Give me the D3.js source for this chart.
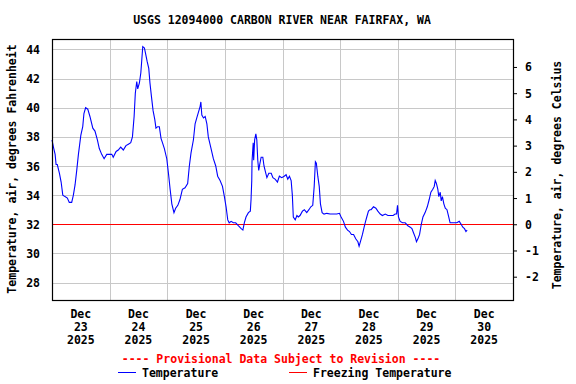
<!DOCTYPE html>
<html lang="en">
<head>
<meta charset="UTF-8">
<script src="https://d3js.org/d3.v7.min.js"></script>
<title>USGS 12094000 Carbon River</title>
<style>
body { margin: 0; background: white; }
text {
  font-family: "DejaVu Sans Mono", monospace;
  font-weight: bold;
  font-size: 11.5px;
  fill: black;
}
.grid line { stroke: #c8c8c8; stroke-width: 1px; shape-rendering: crispEdges; }
</style>
</head>
<body>
<div id="chart"></div>
<script>

// hours after Dec 23 2025 00:00 and air temperature (deg F)
var hours = [0, 0.6, 1.3, 1.7, 2.2, 3.1, 3.8, 4.5, 5.4, 6.4, 7.2, 8.2, 8.9, 9.6, 10.3, 11.0, 12.0, 12.8, 13.3, 14.0,
  14.9, 15.8, 17.0, 17.9, 18.9, 19.7, 20.7, 21.7, 22.8, 23.9, 24.9, 25.5, 26.7, 27.6, 28.6, 29.7, 30.8, 31.8, 32.8, 33.5,
  34.2, 34.7, 35.3, 35.7, 36.4, 37.0, 37.4, 37.8, 38.5, 39.0, 39.6, 40.3, 40.8, 41.4, 42.1, 42.8, 43.3, 44.0, 44.7, 45.4,
  46.0, 46.8, 47.8, 48.5, 49.2, 49.9, 50.8, 51.5, 52.4, 53.3, 54.3, 55.4, 56.5, 57.2, 57.9, 58.9, 59.6, 60.3, 61.0, 61.7,
  62.0, 62.4, 63.1, 63.8, 64.5, 65.1, 66.1, 67.2, 68.2, 69.0, 70.0, 71.0, 71.8, 72.5, 73.2, 73.8, 74.6, 75.5, 76.5, 77.6,
  78.8, 79.5, 80.1, 80.8, 81.8, 82.6, 82.9, 83.2, 83.3, 83.8, 84.0, 84.4, 84.9, 85.3, 85.7, 86.1, 86.5, 87.1, 87.8, 88.3,
  88.9, 89.5, 90.3, 91.3, 92.0, 92.9, 93.9, 94.7, 95.7, 96.7, 97.5, 98.2, 98.9, 99.6, 100.1, 100.5, 101.3, 102.0, 102.6, 103.3,
  104.3, 105.1, 106.1, 107.0, 107.8, 108.6, 109.2, 109.7, 110.1, 110.7, 111.3, 111.8, 112.5, 113.3, 114.5, 115.8, 117.2, 118.6, 119.7, 120.4,
  121.4, 122.2, 123.1, 123.9, 124.7, 125.6, 126.5, 127.4, 127.9, 128.6, 129.3, 130.0, 130.6, 131.1, 131.8, 132.4, 132.9, 133.9, 134.9, 135.7,
  136.7, 137.6, 138.8, 139.9, 141.0, 142.1, 142.9, 143.5, 143.9, 144.3, 145.0, 146.0, 147.1, 148.2, 149.2, 149.9, 150.6, 151.3, 151.8, 152.4,
  153.1, 153.8, 154.5, 155.4, 156.3, 157.1, 157.8, 158.6, 159.2, 159.6, 160.1, 160.7, 161.1, 161.7, 162.1, 162.6, 163.2, 163.8, 164.5, 165.1,
  165.8, 166.8, 167.6, 168.6, 169.6, 170.4, 171.1, 171.8, 172.4, 172.9];

var tempF = [37.8, 37.3, 36.8, 36.1, 36.1, 35.5, 34.9, 34.0, 33.9, 33.8, 33.5, 33.5, 34.0, 34.7, 35.7, 36.8, 38.1, 38.7, 39.6, 40.0,
  39.9, 39.4, 38.6, 38.4, 37.8, 37.2, 36.8, 36.5, 36.8, 36.8, 36.8, 36.6, 37.0, 37.1, 37.3, 37.1, 37.4, 37.5, 37.6, 38.0,
  39.4, 41.0, 41.8, 41.3, 41.7, 42.4, 43.3, 44.2, 44.1, 43.7, 43.2, 42.7, 41.7, 40.8, 39.8, 39.2, 38.6, 38.7, 38.7, 37.9,
  37.6, 37.2, 36.5, 35.5, 34.4, 33.4, 32.8, 33.1, 33.3, 33.7, 34.4, 34.5, 34.8, 36.0, 36.9, 37.8, 38.9, 39.3, 39.7, 40.1,
  40.4, 39.5, 39.3, 39.4, 38.9, 38.0, 37.3, 36.5, 36.0, 35.3, 35.0, 34.6, 33.9, 33.2, 32.3, 32.1, 32.2, 32.1, 32.1, 31.9,
  31.7, 31.6, 32.1, 32.5, 32.8, 32.9, 33.7, 35.0, 36.3, 37.6, 36.4, 37.8, 38.2, 37.8, 36.4, 35.7, 36.1, 36.6, 36.6, 36.0,
  35.6, 35.2, 35.5, 35.5, 35.2, 35.1, 34.9, 35.3, 35.2, 35.3, 35.4, 35.1, 35.3, 35.0, 34.0, 32.5, 32.3, 32.6, 32.5, 32.6,
  32.9, 33.0, 32.8, 33.0, 33.2, 33.3, 34.6, 36.3, 36.2, 35.3, 34.6, 33.4, 32.8, 32.7, 32.75, 32.7, 32.7, 32.7, 32.75, 32.5,
  32.2, 31.8, 31.6, 31.5, 31.3, 31.3, 31.0, 30.8, 30.5, 30.9, 31.3, 31.8, 32.2, 32.5, 32.9, 33.0, 33.0, 33.2, 33.1, 32.9,
  32.7, 32.6, 32.7, 32.6, 32.6, 32.6, 32.7, 32.7, 33.3, 32.5, 32.2, 32.1, 32.1, 31.9, 31.8, 31.7, 31.4, 31.1, 30.8, 31.0,
  31.3, 32.0, 32.5, 32.8, 33.2, 33.7, 34.2, 34.4, 34.6, 35.0, 34.8, 34.4, 33.9, 34.2, 33.6, 33.9, 33.4, 33.1, 33.0, 32.6,
  32.1, 32.1, 32.1, 32.1, 32.2, 32.0, 31.8, 31.7, 31.5, 31.6];

var fTicks = [28, 30, 32, 34, 36, 38, 40, 42, 44];
var cTicks = [-2, -1, 0, 1, 2, 3, 4, 5, 6];
var dayLabels = ["23", "24", "25", "26", "27", "28", "29", "30"];
var freezing = 32;

var W = 576, H = 384;
var margin = {top: 39, right: 63, bottom: 84, left: 52},
    width = W - margin.left - margin.right,
    height = H - margin.top - margin.bottom;

var svg = d3.select("#chart").append("svg")
    .attr("width", W)
    .attr("height", H);

var g = svg.append("g")
    .attr("transform", "translate(" + margin.left + "," + margin.top + ")");

var start = new Date(2025, 11, 23);
var end = new Date(2025, 11, 31);
var x = d3.scaleTime().domain([start, end]).range([0, width]);
var y = d3.scaleLinear().domain([26.8, 44.72]).range([height, 0]);
// celsius scale built from the fahrenheit one
var yC = d3.scaleLinear()
    .domain(y.domain().map(function(f) { return (f - 32) * 5 / 9; }))
    .range([height, 0]);

var data = hours.map(function(h, i) {
  return {t: new Date(start.getTime() + h * 3600000), v: tempF[i]};
});

// grid
var days = d3.timeDay.range(d3.timeDay.offset(start, 1), end);
g.append("g").attr("class", "grid")
  .selectAll("line").data(days).enter().append("line")
    .attr("x1", function(d) { return Math.round(x(d)) + 0.5; })
    .attr("x2", function(d) { return Math.round(x(d)) + 0.5; })
    .attr("y1", 0).attr("y2", height);
g.append("g").attr("class", "grid")
  .selectAll("line").data(fTicks).enter().append("line")
    .attr("x1", 0).attr("x2", width)
    .attr("y1", function(d) { return Math.round(y(d)) + 0.5; })
    .attr("y2", function(d) { return Math.round(y(d)) + 0.5; });

// freezing line
g.append("line")
  .attr("x1", 0).attr("x2", width)
  .attr("y1", Math.round(y(freezing)) + 0.5).attr("y2", Math.round(y(freezing)) + 0.5)
  .attr("stroke", "red").attr("stroke-width", 1.2);

// temperature
var line = d3.line()
  .x(function(d) { return x(d.t); })
  .y(function(d) { return y(d.v); });
g.append("path").datum(data)
  .attr("d", line)
  .attr("fill", "none")
  .attr("stroke", "blue")
  .attr("stroke-width", 1.1);

// frame
g.append("rect")
  .attr("x", 0.5).attr("y", 0.5)
  .attr("width", width).attr("height", height)
  .attr("fill", "none").attr("stroke", "black").attr("stroke-width", 1.2);

// left axis
var yAxis = g.append("g")
  .call(d3.axisLeft(y).tickValues(fTicks).tickSize(0).tickPadding(12));
yAxis.select(".domain").remove();
yAxis.selectAll("text").style("font-size", "11.5px").style("font-family", "DejaVu Sans Mono").attr("dy", "0.35em");

// right axis (celsius)
var yRight = g.append("g")
  .attr("transform", "translate(" + width + ",0)")
  .call(d3.axisRight(yC).tickValues(cTicks).tickSize(4).tickPadding(8)
    .tickFormat(function(d) { return d < 0 ? "-" + Math.abs(d) : d; }));
yRight.select(".domain").remove();
yRight.selectAll("line").attr("stroke", "black");
yRight.selectAll("text").style("font-size", "11.5px").style("font-family", "DejaVu Sans Mono").attr("dy", "0.35em");

// x labels, centred on each day
var noon = dayLabels.map(function(d, i) { return d3.timeHour.offset(d3.timeDay.offset(start, i), 12); });
var xl = g.append("g").selectAll("text").data(noon).enter().append("text")
  .attr("text-anchor", "middle")
  .attr("x", function(d) { return x(d); })
  .attr("y", 279);
xl.append("tspan").attr("x", function(d) { return x(d); }).text("Dec");
xl.append("tspan").attr("x", function(d) { return x(d); }).attr("dy", 13).text(function(d, i) { return dayLabels[i]; });
xl.append("tspan").attr("x", function(d) { return x(d); }).attr("dy", 13).text("2025");

// titles
svg.append("text")
  .attr("x", 282).attr("y", 24)
  .attr("text-anchor", "middle")
  .text("USGS 12094000 CARBON RIVER NEAR FAIRFAX, WA");

svg.append("text")
  .attr("transform", "translate(16,169) rotate(-90)")
  .attr("text-anchor", "middle")
  .text("Temperature, air, degrees Fahrenheit");

svg.append("text")
  .attr("transform", "translate(561,175) rotate(-90)")
  .attr("text-anchor", "middle")
  .text("Temperature, air, degrees Celsius");

// legend
svg.append("text")
  .attr("x", 281).attr("y", 363)
  .attr("text-anchor", "middle")
  .attr("fill", "red").style("fill", "red")
  .text("---- Provisional Data Subject to Revision ----");

svg.append("line")
  .attr("x1", 118).attr("x2", 136).attr("y1", 372.5).attr("y2", 372.5)
  .attr("stroke", "blue");
svg.append("text").attr("x", 142).attr("y", 377).text("Temperature");

svg.append("line")
  .attr("x1", 289).attr("x2", 307).attr("y1", 372.5).attr("y2", 372.5)
  .attr("stroke", "red");
svg.append("text").attr("x", 313).attr("y", 377).text("Freezing Temperature");

</script>
</body>
</html>
